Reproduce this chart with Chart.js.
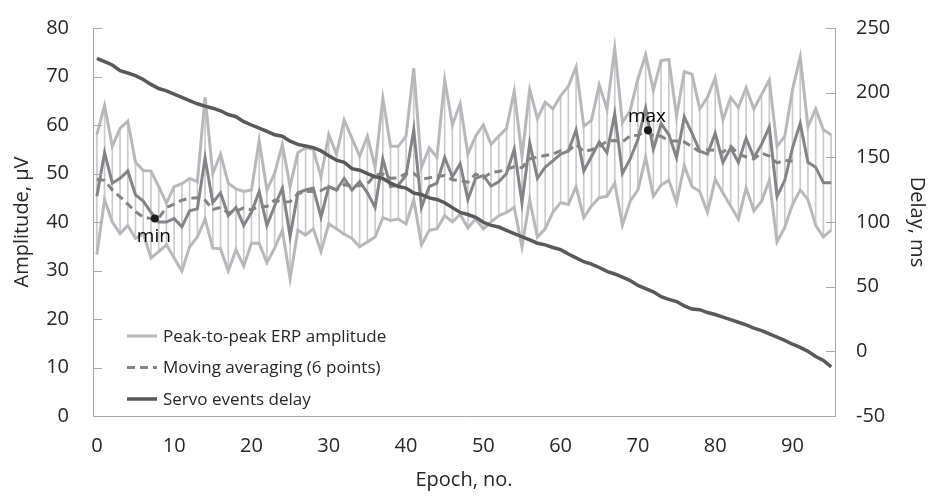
<!DOCTYPE html>
<html>
<head>
<meta charset="utf-8">
<script src="https://cdn.jsdelivr.net/npm/chart.js@4.4.1/dist/chart.umd.min.js"></script>
<style>
  html, body { margin: 0; padding: 0; background: #fff; }
  #wrap { width: 931px; height: 498px; }
</style>
</head>
<body>
<div id="wrap"><canvas id="chart" width="931" height="498"></canvas></div>
<script>
// --- data ---
const epochs = [0, 1, 2, 3, 4, 5, 6, 7, 8, 9, 10, 11, 12, 13, 14, 15, 16, 17, 18, 19,
    20, 21, 22, 23, 24, 25, 26, 27, 28, 29, 30, 31, 32, 33, 34, 35, 36, 37, 38, 39,
    40, 41, 42, 43, 44, 45, 46, 47, 48, 49, 50, 51, 52, 53, 54, 55, 56, 57, 58, 59,
    60, 61, 62, 63, 64, 65, 66, 67, 68, 69, 70, 71, 72, 73, 74, 75, 76, 77, 78, 79,
    80, 81, 82, 83, 84, 85, 86, 87, 88, 89, 90, 91, 92, 93, 94, 95];

const upperAmp = [58, 64, 55.6, 59.3, 60.8, 52.3, 50.6, 50.5, 47.3, 43.9,
    47.3, 47.9, 49, 48.3, 65.7, 50, 54, 48, 46.8, 46.3,
    46.6, 56.8, 46.6, 50, 56, 47.3, 54.3, 55.3, 55, 49.3,
    58, 54, 61, 57.3, 53.6, 57.7, 51.3, 65.5, 55.6, 55.6,
    57.7, 71.7, 51.3, 55.3, 53.3, 69.3, 60, 64.4, 54, 57.7,
    60, 56, 57.7, 59.3, 67, 53.5, 67.3, 61.3, 64.7, 63.3,
    66, 68, 72, 59.7, 61, 68.3, 63.3, 75.8, 60.5, 63,
    69.5, 74.5, 67.2, 73.3, 73.5, 61.8, 71, 70.5, 63.3, 65.7,
    69.7, 61, 65.7, 63.6, 67.7, 63.3, 66.3, 69.3, 55.6, 57.7,
    67.3, 74, 59.6, 63.3, 59, 58];

const middleAmp = [45.3, 54.3, 48, 49, 50.5, 45.6, 44.3, 42, 40, 40,
    40.7, 39, 42.3, 42.7, 53.2, 44, 46, 41.3, 43, 39.3,
    42, 46.3, 39.3, 43.3, 47, 37, 46, 46.6, 47, 41,
    47.3, 46.6, 49, 46.6, 48.3, 46, 43, 53, 47.3, 47.6,
    49.6, 59, 43, 47.3, 48, 53.3, 49.3, 52, 44.6, 49,
    49.6, 47.4, 48.3, 50, 55, 44, 56.3, 49, 51.3, 52.6,
    54, 54.6, 59, 50.5, 53.5, 56.5, 54.3, 62.3, 50, 53,
    57, 63.5, 55, 60.3, 58, 53.3, 61.7, 58.3, 54.6, 54,
    58.3, 52.3, 55.3, 52.3, 57.3, 53.3, 56, 59.6, 45.3, 48.6,
    55.3, 60.3, 52.3, 51.3, 48.1, 48.1];

const lowerAmp = [33.3, 44.6, 40, 37.6, 39.3, 36.6, 37.6, 32.6, 33.9, 35.3,
    32.6, 29.9, 34.9, 36.9, 40.6, 34.6, 34.5, 29.9, 34.3, 30.9,
    35.6, 35.6, 31.6, 34.6, 38.3, 28.3, 38.3, 37.3, 38.6, 33.9,
    39.6, 38.6, 37.5, 36.6, 34.9, 35.9, 36.9, 40.9, 40.3, 40.6,
    39.6, 44.6, 35.3, 38.3, 38.6, 41.3, 40, 41.6, 38.8, 40.6,
    38.6, 40, 41.3, 42, 43, 34.9, 44.6, 36.9, 38.6, 42,
    44, 43.6, 47.3, 40.9, 43.3, 45, 45.3, 48, 39.3, 44.3,
    46.6, 53.3, 45.3, 47.6, 48.6, 44, 51.6, 47.3, 46.3, 42,
    48.8, 46, 43.3, 40.6, 47, 42.3, 44.3, 48.6, 35.9, 38.9,
    43.6, 46.6, 44.6, 39.3, 36.9, 38.3];

// dashed curve, epochs 0..90
const movingAvg = [48.8, 48.6, 46.6, 45.2, 43.7, 42.1, 41.0, 40.7, 40.8, 43.0,
    43.7, 44.5, 44.9, 45.0, 44.5, 42.6, 43.0, 41.9, 42.2, 42.9,
    42.5, 43.2, 43.2, 44.5, 44.1, 44.2, 45.8, 46.3, 46.3, 46.5,
    47.3, 46.6, 47.7, 47.4, 47.5, 47.8, 49.8, 49.9, 49.0, 49.1,
    50.0, 50.0, 48.8, 49.1, 49.4, 49.6, 48.7, 48.5, 48.2, 49.9,
    49.1, 50.2, 50.4, 50.9, 51.4, 51.2, 53.0, 53.4, 53.7, 54.0,
    54.7, 54.7, 56.0, 54.5, 54.9, 55.5, 56.7, 56.8, 56.5, 57.8,
    57.9, 58.6, 57.8, 57.7, 56.7, 56.7, 56.5, 55.5, 54.5, 54.9,
    54.8, 54.4, 55.6, 54.0, 53.4, 53.0, 54.2, 53.6, 52.2, 52.7, 52.6];

const servoDelay = [226.5, 224, 221.4, 217, 215.2, 213.2, 210.2, 206.4, 203.2, 201.4,
    198.9, 196.4, 193.8, 191.4, 189.6, 188, 186, 183.1, 181.4, 177.6,
    175, 172.6, 170, 167.5, 166.3, 162.5, 160, 158.8, 157.5, 155,
    151.3, 147.8, 146.2, 141.2, 140, 137.4, 135, 133.7, 130, 127.4,
    126.2, 122.4, 121.2, 118.6, 117.4, 114.9, 111.1, 107.4, 105.8, 103.6,
    99.8, 97.4, 96.1, 93.6, 91.1, 88.6, 86.1, 83.6, 82.3, 80.3,
    78.6, 75.3, 72.3, 69.3, 67.5, 64.8, 61.8, 59.8, 57.3, 54.7,
    51, 48.5, 46, 42.3, 40.2, 38.5, 35.2, 32.7, 32.2, 30,
    28.5, 26.5, 24.5, 22.5, 20.5, 18, 16, 13.5, 11, 8.5,
    5.5, 3, 0, -4, -7, -12];

const markerEpochs = [7.5, 71.3];
const markerValues = [40.7, 58.9];
const markerLabels = ['min', 'max'];

const xTicks = [0, 10, 20, 30, 40, 50, 60, 70, 80, 90];
const ampTicks = [0, 10, 20, 30, 40, 50, 60, 70, 80];
const delayTicks = [-50, 0, 50, 100, 150, 200, 250];

const legendLabels = ['Peak-to-peak ERP amplitude', 'Moving averaging (6 points)', 'Servo events delay'];

// --- styles ---
const FONT = 'Open Sans';
const TEXT = '#262626';
const AXIS = '#a6a6a6';
const LIGHT = '#b6b8bb';
const MID = '#828487';
const AVG = '#838383';
const DARK = '#58595b';
const STICK = '#c9cacc';

const pts = vals => vals.map((v, i) => ({ x: epochs[i], y: v }));

const datasets = [
    {
        type: 'bar',
        data: epochs.map((e, i) => ({ x: e, y: [lowerAmp[i], upperAmp[i]] })),
        backgroundColor: STICK,
        barThickness: 1,
        yAxisID: 'y',
        order: 10
    },
    { type: 'line', data: pts(upperAmp), borderColor: LIGHT, borderWidth: 3, pointRadius: 0, yAxisID: 'y', order: 6 },
    { type: 'line', data: pts(lowerAmp), borderColor: LIGHT, borderWidth: 3, pointRadius: 0, yAxisID: 'y', order: 6 },
    { type: 'line', data: pts(middleAmp), borderColor: MID, borderWidth: 3, pointRadius: 0, yAxisID: 'y', order: 5 },
    { type: 'line', data: pts(movingAvg), borderColor: AVG, borderWidth: 3, borderDash: [8, 5], pointRadius: 0, yAxisID: 'y', order: 4 },
    { type: 'line', data: pts(servoDelay), borderColor: DARK, borderWidth: 3.5, pointRadius: 0, yAxisID: 'y1', order: 3 },
    {
        type: 'line',
        data: markerEpochs.map((e, i) => ({ x: e, y: markerValues[i] })),
        showLine: false,
        pointRadius: 4,
        pointBackgroundColor: '#1a1a1a',
        pointBorderWidth: 0,
        yAxisID: 'y',
        order: 1
    }
];

// small inward tick marks on both value axes
const innerTicks = {
    id: 'innerTicks',
    afterDraw(chart) {
        const { ctx, chartArea } = chart;
        ctx.save();
        ctx.strokeStyle = AXIS;
        ctx.lineWidth = 1;
        ['y', 'y1'].forEach(id => {
            const scale = chart.scales[id];
            scale.ticks.forEach(t => {
                const py = Math.round(scale.getPixelForValue(t.value)) + 0.5;
                ctx.beginPath();
                if (id === 'y') {
                    ctx.moveTo(chartArea.left, py);
                    ctx.lineTo(chartArea.left + 9, py);
                } else {
                    ctx.moveTo(chartArea.right - 9, py);
                    ctx.lineTo(chartArea.right, py);
                }
                ctx.stroke();
            });
        });
        ctx.restore();
    }
};

// legend sitting inside the plot, lower left
const cornerLegend = {
    id: 'cornerLegend',
    afterDraw(chart) {
        const { ctx, chartArea } = chart;
        const sources = [1, 4, 5];
        ctx.save();
        ctx.font = '17px "' + FONT + '"';
        ctx.textBaseline = 'middle';
        ctx.fillStyle = TEXT;
        sources.forEach((dsIndex, k) => {
            const ds = chart.data.datasets[dsIndex];
            const y = chartArea.top + 308 + k * 31.5;
            const x0 = chartArea.left + 34;
            ctx.beginPath();
            ctx.strokeStyle = ds.borderColor;
            ctx.lineWidth = ds.borderWidth;
            ctx.setLineDash(ds.borderDash || []);
            ctx.moveTo(x0, y);
            ctx.lineTo(x0 + 30, y);
            ctx.stroke();
            ctx.setLineDash([]);
            ctx.fillText(legendLabels[k], x0 + 36, y + 1);
        });
        ctx.restore();
    }
};

// "min" / "max" captions next to the marker dots
const markerText = {
    id: 'markerText',
    afterDatasetsDraw(chart) {
        const { ctx } = chart;
        const meta = chart.getDatasetMeta(chart.data.datasets.length - 1);
        ctx.save();
        ctx.font = '19px "' + FONT + '"';
        ctx.fillStyle = '#000';
        ctx.textAlign = 'center';
        ctx.textBaseline = 'middle';
        meta.data.forEach((pt, i) => {
            const below = i === 0;
            ctx.fillText(markerLabels[i], pt.x - 1, pt.y + (below ? 18 : -14));
        });
        ctx.restore();
    }
};

const tickFont = { family: FONT, size: 20 };
const titleFont = { family: FONT, size: 20 };

new Chart(document.getElementById('chart'), {
    type: 'line',
    data: { datasets },
    options: {
        responsive: false,
        animation: false,
        layout: { padding: { top: 17, left: 0, right: 0, bottom: 0 } },
        plugins: {
            legend: { display: false },
            tooltip: { enabled: false }
        },
        scales: {
            x: {
                type: 'linear',
                min: -0.5,
                max: 95.5,
                offset: false,
                grid: { display: false },
                border: { display: true, color: AXIS, width: 1 },
                afterBuildTicks: s => { s.ticks = xTicks.map(v => ({ value: v })); },
                afterFit: s => { s.height = 82; },
                ticks: { font: tickFont, color: TEXT, padding: 10, maxRotation: 0, autoSkip: false },
                title: { display: true, text: 'Epoch, no.', font: titleFont, color: TEXT, padding: { top: 0, bottom: 6 } }
            },
            y: {
                position: 'left',
                min: 0,
                max: 80,
                grid: { display: false },
                border: { display: true, color: AXIS, width: 1 },
                afterBuildTicks: s => { s.ticks = ampTicks.map(v => ({ value: v })); },
                afterFit: s => { s.width = 93; },
                ticks: { font: tickFont, color: TEXT, padding: 16 },
                title: { display: true, text: 'Amplitude, µV', font: titleFont, color: TEXT, padding: { top: 10, bottom: 0 } }
            },
            y1: {
                position: 'right',
                min: -50,
                max: 250,
                grid: { display: false },
                border: { display: true, color: AXIS, width: 1 },
                afterBuildTicks: s => { s.ticks = delayTicks.map(v => ({ value: v })); },
                afterFit: s => { s.width = 96; },
                ticks: { font: tickFont, color: TEXT, padding: 13 },
                title: { display: true, text: 'Delay, ms', font: titleFont, color: TEXT, padding: { top: 2, bottom: 0 } }
            }
        }
    },
    plugins: [innerTicks, cornerLegend, markerText]
});
</script>
</body>
</html>
